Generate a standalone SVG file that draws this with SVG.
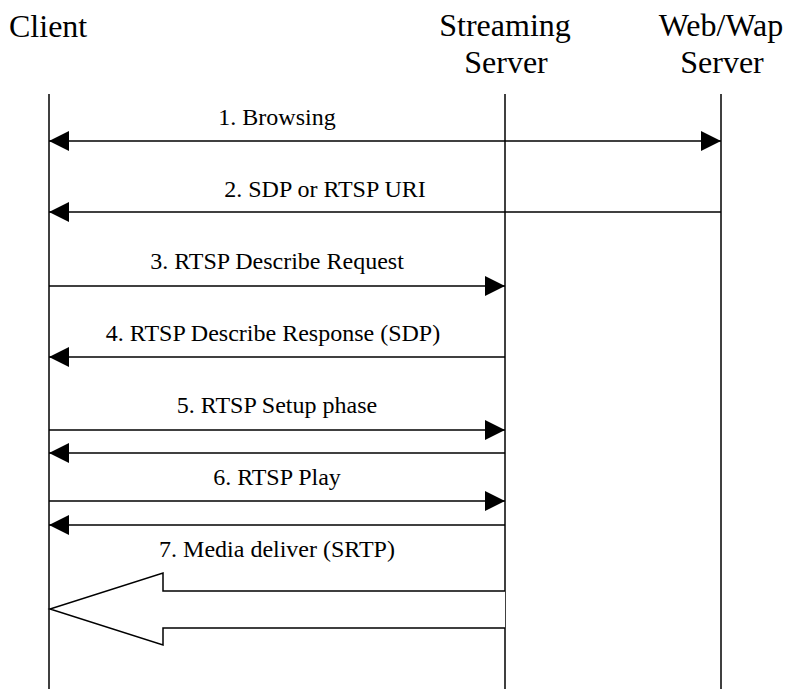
<svg xmlns="http://www.w3.org/2000/svg" width="787" height="689" viewBox="0 0 787 689">
<defs>
<marker id="ah" markerWidth="20" markerHeight="20" refX="20" refY="10" orient="auto-start-reverse" markerUnits="userSpaceOnUse" viewBox="0 0 20 20">
<path d="M0,0 L20,10 L0,20 Z" fill="#000"/>
</marker>
<style>
.hd{font-family:"Liberation Serif","Times New Roman",serif;font-size:32px;fill:#000}
.lb{font-family:"Liberation Serif","Times New Roman",serif;font-size:24px;fill:#000;text-anchor:middle}
.ll{stroke:#000;stroke-width:1.5;fill:none}
.msg{stroke:#000;stroke-width:1.5;fill:none;marker-end:url(#ah)}
</style>
</defs>
<rect width="787" height="689" fill="#fff"/>
<g id="client">
<text class="hd" x="9" y="37">Client</text>
<line class="ll" x1="49" y1="94" x2="49" y2="689"/>
</g>
<g id="streaming">
<text class="hd" x="505" y="36" text-anchor="middle">Streaming</text>
<text class="hd" x="506" y="73" text-anchor="middle">Server</text>
<line class="ll" x1="505" y1="94" x2="505" y2="689"/>
</g>
<g id="webwap">
<text class="hd" x="721" y="36" text-anchor="middle">Web/Wap</text>
<text class="hd" x="722" y="73" text-anchor="middle">Server</text>
<line class="ll" x1="721" y1="94" x2="721" y2="689"/>
</g>
<g id="connectors">
<line class="msg" x1="49" y1="141" x2="721" y2="141" style="marker-start:url(#ah)"/>
<text class="lb" x="277" y="125">1. Browsing</text>
<line class="msg" x1="721" y1="212" x2="49" y2="212"/>
<text class="lb" x="325" y="197">2. SDP or RTSP URI</text>
<line class="msg" x1="49" y1="286" x2="505" y2="286"/>
<text class="lb" x="277" y="269">3. RTSP Describe Request</text>
<line class="msg" x1="505" y1="357" x2="49" y2="357"/>
<text class="lb" x="273" y="341">4. RTSP Describe Response (SDP)</text>
<line class="msg" x1="49" y1="430" x2="505" y2="430"/>
<text class="lb" x="277" y="413">5. RTSP Setup phase</text>
<line class="msg" x1="505" y1="453" x2="49" y2="453"/>
<line class="msg" x1="49" y1="501" x2="505" y2="501"/>
<text class="lb" x="277" y="485">6. RTSP Play</text>
<line class="msg" x1="505" y1="525" x2="49" y2="525"/>
<text class="lb" x="277" y="557">7. Media deliver (SRTP)</text>
<path d="M505,591 L163,591 L163,573 L50,609 L163,645 L163,628 L505,628" fill="#fff" stroke="#000" stroke-width="1.5"/>
</g>
</svg>
